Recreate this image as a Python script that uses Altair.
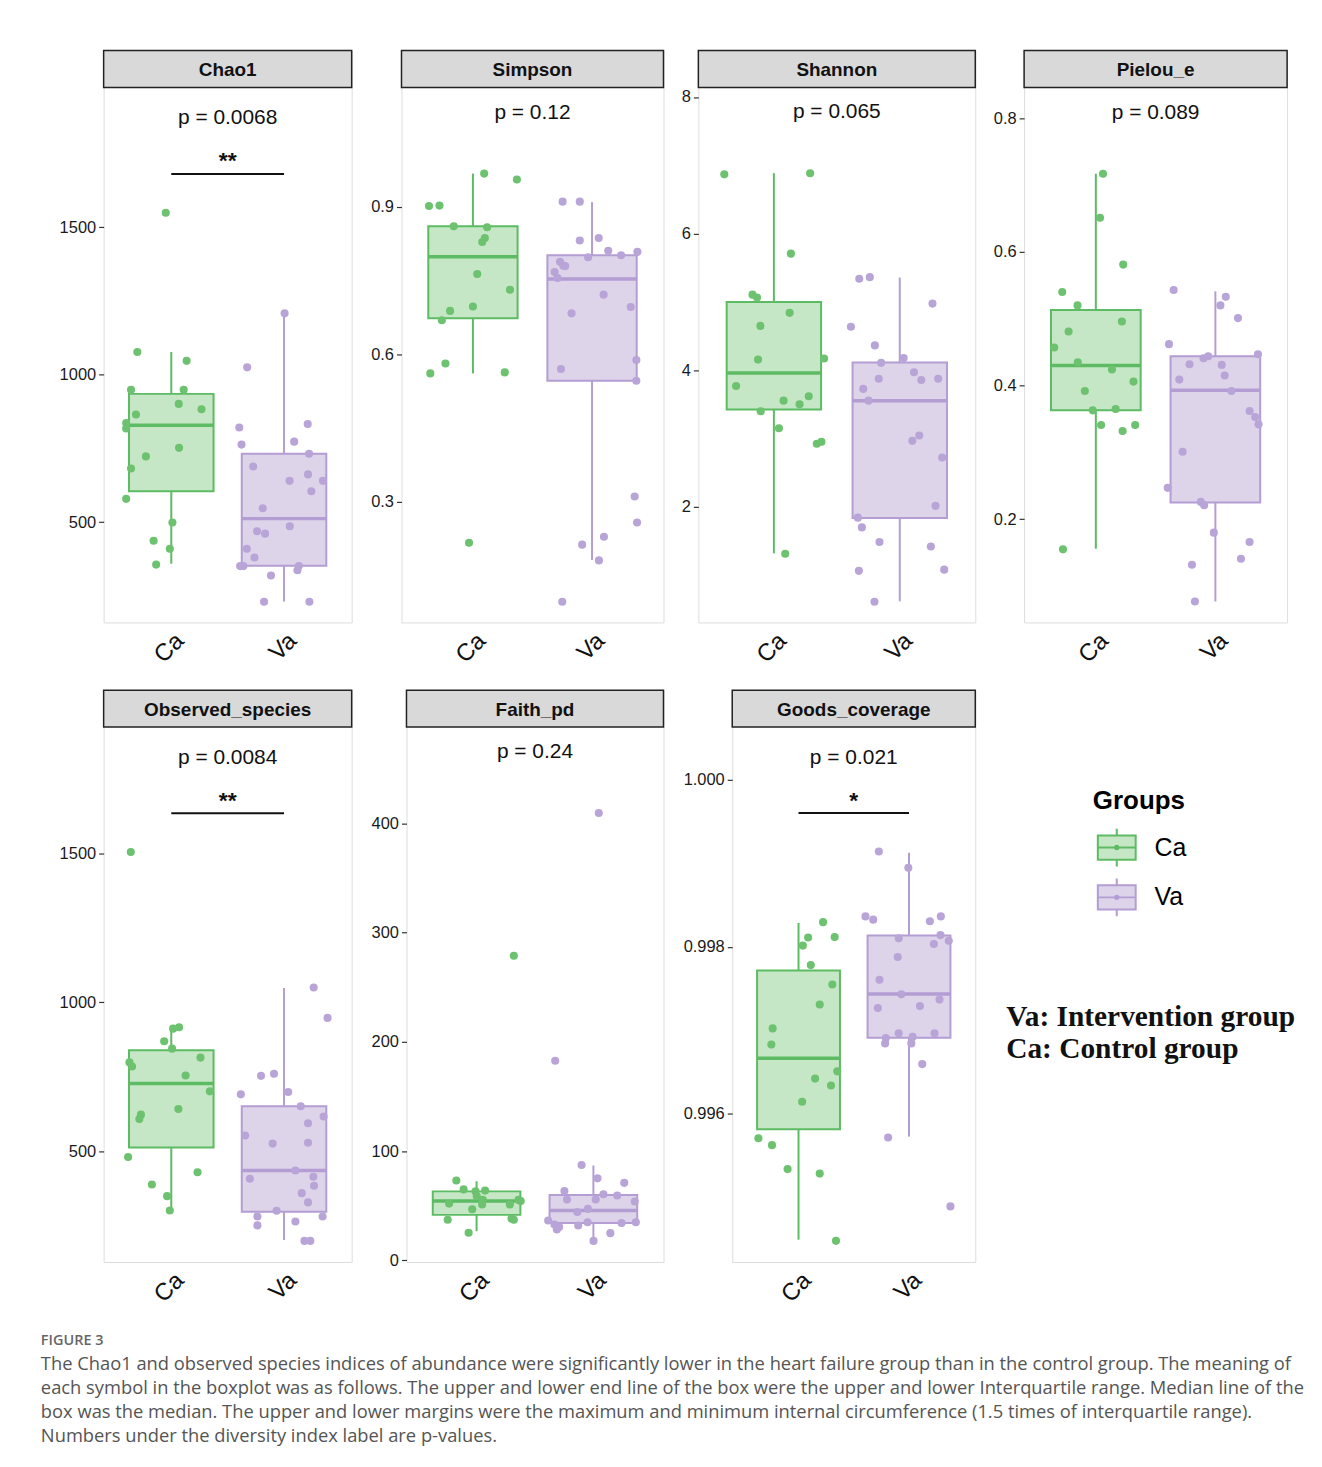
import altair as alt
import pandas as pd

GROUPS = ["Ca", "Va"]

# ---------------- data ----------------
# x = jittered position on the group axis (Ca = 1, Va = 2), y = index value
chao1_ca_x = [0.951, 0.699, 1.136, 0.643, 1.110, 1.066, 1.268, 0.687, 0.600, 0.600, 1.069, 0.775, 0.643, 0.600, 1.010, 0.843, 0.987, 0.866]
chao1_ca_y = [1549, 1077, 1047, 949, 949, 901, 883, 865, 836, 818, 752, 723, 682, 579, 499, 437, 410, 356]
chao1_va_x = [2.005, 1.673, 2.210, 1.603, 2.090, 1.623, 2.222, 1.726, 2.213, 2.049, 2.345, 2.242, 1.811, 2.051, 1.761, 1.832, 1.670, 1.738, 1.611, 1.640, 2.131, 2.119, 1.884, 1.823, 2.225]
chao1_va_y = [1208, 1025, 833, 821, 773, 763, 732, 689, 662, 640, 640, 605, 547, 486, 469, 461, 410, 380, 351, 351, 351, 337, 319, 230, 230]
chao1_box_ca = [359, 605, 829, 935, 1077]      # lower whisker, Q1, median, Q3, upper whisker
chao1_box_va = [231, 352, 512, 732, 1208]

simpson_ca_x = [1.094, 1.369, 0.631, 0.719, 0.839, 1.119, 1.100, 1.078, 1.036, 1.311, 1.000, 0.808, 0.739, 0.769, 0.642, 1.267, 0.967]
simpson_ca_y = [0.967, 0.955, 0.901, 0.902, 0.860, 0.858, 0.836, 0.828, 0.763, 0.731, 0.697, 0.688, 0.669, 0.581, 0.561, 0.563, 0.217]
simpson_va_x = [1.753, 1.897, 1.897, 2.056, 2.136, 2.244, 2.381, 1.967, 1.731, 1.758, 1.775, 1.686, 1.711, 2.097, 1.828, 2.325, 1.739, 2.372, 2.372, 2.358, 2.378, 2.100, 1.917, 2.058, 1.750]
simpson_va_y = [0.910, 0.910, 0.831, 0.836, 0.810, 0.801, 0.808, 0.797, 0.788, 0.780, 0.779, 0.767, 0.755, 0.721, 0.683, 0.696, 0.570, 0.588, 0.546, 0.311, 0.258, 0.229, 0.213, 0.181, 0.097]
simpson_box_ca = [0.561, 0.673, 0.798, 0.860, 0.967]
simpson_box_va = [0.182, 0.546, 0.753, 0.801, 0.909]

shannon_ca_x = [0.606, 1.288, 1.135, 0.830, 0.866, 1.125, 0.893, 0.874, 1.399, 0.700, 1.077, 1.204, 1.277, 0.895, 1.040, 1.341, 1.378, 1.090]
shannon_ca_y = [6.867, 6.884, 5.707, 5.106, 5.065, 4.839, 4.648, 4.155, 4.172, 3.768, 3.554, 3.500, 3.619, 3.399, 3.150, 2.924, 2.953, 1.312]
shannon_va_x = [1.678, 1.762, 2.260, 1.612, 1.802, 2.031, 1.852, 1.833, 2.113, 2.171, 2.305, 1.710, 1.752, 2.155, 2.100, 2.337, 2.284, 1.667, 1.699, 1.839, 2.247, 1.675, 2.353, 1.799]
shannon_va_y = [5.338, 5.362, 4.975, 4.636, 4.363, 4.178, 4.107, 3.875, 3.970, 3.857, 3.875, 3.726, 3.554, 3.043, 2.965, 2.721, 2.014, 1.841, 1.698, 1.484, 1.419, 1.062, 1.080, 0.610]
shannon_box_ca = [1.318, 3.423, 3.958, 4.999, 6.884]
shannon_box_va = [0.616, 1.835, 3.554, 4.113, 5.356]

pielou_ca_x = [1.060, 1.035, 1.229, 0.719, 0.847, 1.218, 0.772, 0.652, 0.849, 1.135, 1.315, 0.908, 0.974, 1.166, 1.044, 1.329, 1.224, 0.725]
pielou_ca_y = [0.717, 0.651, 0.581, 0.540, 0.520, 0.496, 0.481, 0.457, 0.435, 0.424, 0.406, 0.392, 0.363, 0.365, 0.341, 0.341, 0.332, 0.155]
pielou_va_x = [1.651, 2.087, 2.042, 2.189, 1.612, 1.940, 1.901, 2.356, 1.784, 2.053, 2.078, 1.698, 2.134, 2.286, 2.333, 2.361, 1.726, 1.601, 1.878, 1.906, 1.987, 2.286, 2.214, 1.804, 1.829]
pielou_va_y = [0.543, 0.533, 0.520, 0.501, 0.462, 0.444, 0.441, 0.447, 0.432, 0.431, 0.415, 0.409, 0.392, 0.362, 0.353, 0.342, 0.301, 0.247, 0.226, 0.221, 0.180, 0.166, 0.141, 0.132, 0.077]
pielou_box_ca = [0.156, 0.363, 0.430, 0.513, 0.717]
pielou_box_va = [0.077, 0.225, 0.393, 0.444, 0.541]

obs_ca_x = [0.641, 1.069, 1.016, 0.937, 1.007, 1.259, 0.629, 0.652, 1.127, 1.342, 0.731, 0.717, 1.063, 0.617, 1.233, 0.828, 0.963, 0.987]
obs_ca_y = [1504, 917, 912, 870, 845, 815, 799, 785, 755, 702, 624, 609, 643, 482, 431, 390, 351, 303]
obs_va_x = [2.263, 2.386, 1.796, 1.911, 1.617, 2.037, 2.148, 2.351, 2.213, 1.655, 1.899, 2.213, 2.101, 1.697, 2.260, 2.266, 2.157, 2.213, 1.934, 1.764, 2.342, 2.101, 1.764, 2.181, 2.233]
obs_va_y = [1050, 948, 754, 761, 692, 700, 652, 618, 595, 554, 527, 530, 437, 409, 416, 386, 361, 330, 302, 283, 283, 266, 253, 201, 201]
obs_box_ca = [306, 514, 728, 840, 910]
obs_box_va = [204, 299, 437, 652, 1048]

faith_ca_x = [1.319, 0.827, 0.889, 0.991, 1.073, 1.002, 1.053, 1.359, 0.765, 1.285, 1.048, 0.963, 0.753, 1.299, 1.319, 0.932, 1.378]
faith_ca_y = [278.7, 73.1, 64.9, 63.1, 63.8, 58.6, 55.3, 55.3, 51.9, 51.2, 51.2, 46.8, 37.1, 38.2, 37.1, 25.2, 54.2]
faith_va_x = [2.046, 1.673, 1.899, 2.035, 2.264, 1.752, 2.086, 2.204, 1.774, 2.020, 2.354, 1.953, 1.862, 1.613, 1.950, 2.241, 2.363, 1.667, 1.707, 1.870, 1.687, 2.145, 2.001]
faith_va_y = [409.3, 182.6, 87.2, 75.0, 70.9, 63.5, 60.5, 59.4, 55.7, 55.7, 53.8, 47.1, 44.2, 36.4, 34.9, 34.1, 34.9, 32.7, 30.4, 31.9, 28.2, 24.9, 17.8]
faith_box_ca = [26.7, 41.6, 54.2, 63.1, 72.4]
faith_box_va = [18.6, 34.1, 45.6, 59.7, 86.8]

goods_ca_x = [1.222, 1.087, 1.327, 1.039, 1.111, 1.306, 1.192, 0.766, 0.754, 1.351, 1.150, 1.294, 1.033, 0.637, 0.760, 0.901, 1.192, 1.339]
goods_ca_y = [0.998296, 0.998112, 0.998117, 0.998015, 0.997781, 0.997548, 0.997310, 0.997023, 0.996829, 0.996508, 0.996421, 0.996338, 0.996144, 0.995706, 0.995624, 0.995337, 0.995283, 0.994477]
goods_va_x = [1.727, 1.994, 1.606, 1.676, 2.189, 2.288, 1.907, 2.285, 2.360, 2.225, 1.898, 1.733, 1.931, 1.718, 2.099, 2.276, 1.907, 1.790, 2.033, 2.231, 1.784, 2.021, 2.120, 1.811, 2.375]
goods_va_y = [0.999142, 0.998948, 0.998365, 0.998326, 0.998306, 0.998365, 0.998102, 0.998141, 0.998073, 0.998034, 0.997878, 0.997606, 0.997431, 0.997266, 0.997290, 0.997368, 0.996965, 0.996907, 0.996921, 0.996965, 0.996843, 0.996843, 0.996595, 0.995716, 0.994890]
goods_box_ca = [0.994491, 0.995813, 0.996664, 0.997718, 0.998287]
goods_box_va = [0.995726, 0.996911, 0.997436, 0.998136, 0.999128]

# axis ranges of the plotting area, tick values and labels
panel_titles = ["Chao1", "Simpson", "Shannon", "Pielou_e", "Observed_species", "Faith_pd", "Goods_coverage"]
panel_ranges = [[160, 1974], [0.055, 1.142], [0.307, 8.139], [0.0457, 0.846], [130.4, 1922.5], [-1.5, 488], [0.994224, 1.000634]]
panel_ticks = [[500, 1000, 1500], [0.3, 0.6, 0.9], [2, 4, 6, 8], [0.2, 0.4, 0.6, 0.8], [500, 1000, 1500], [0, 100, 200, 300, 400], [0.996, 0.998, 1.000]]
panel_formats = ["d", ".1f", "d", ".1f", "d", "d", ".3f"]
p_labels = ["p = 0.0068", "p = 0.12", "p = 0.065", "p = 0.089", "p = 0.0084", "p = 0.24", "p = 0.021"]
p_label_y = [1875, 1.094, 7.80, 0.810, 1825, 466.8, 1.000284]
sig_labels = ["**", "", "", "", "**", "", "*"]
sig_bar_y = [1681, None, None, None, 1634, None, 0.999604]
sig_star_y = [1744, None, None, None, 1696, None, 0.999823]

legend_title = "Groups"
note_lines = ["Va: Intervention group", "Ca: Control group"]
fig_label = "FIGURE 3"
caption_lines = [
    "The Chao1 and observed species indices of abundance were significantly lower in the heart failure group than in the control group. The meaning of",
    "each symbol in the boxplot was as follows. The upper and lower end line of the box were the upper and lower Interquartile range. Median line of the",
    "box was the median. The upper and lower margins were the maximum and minimum internal circumference (1.5 times of interquartile range).",
    "Numbers under the diversity index label are p-values.",
]

points = [
    (chao1_ca_x, chao1_ca_y, chao1_va_x, chao1_va_y),
    (simpson_ca_x, simpson_ca_y, simpson_va_x, simpson_va_y),
    (shannon_ca_x, shannon_ca_y, shannon_va_x, shannon_va_y),
    (pielou_ca_x, pielou_ca_y, pielou_va_x, pielou_va_y),
    (obs_ca_x, obs_ca_y, obs_va_x, obs_va_y),
    (faith_ca_x, faith_ca_y, faith_va_x, faith_va_y),
    (goods_ca_x, goods_ca_y, goods_va_x, goods_va_y),
]
boxes = [
    (chao1_box_ca, chao1_box_va), (simpson_box_ca, simpson_box_va), (shannon_box_ca, shannon_box_va),
    (pielou_box_ca, pielou_box_va), (obs_box_ca, obs_box_va), (faith_box_ca, faith_box_va),
    (goods_box_ca, goods_box_va),
]

# ---------------- styling / layout ----------------
SANS = "Liberation Sans"
LINE_G, FILL_G, PT_G = "#5dbb63", "#c6e7c5", "#6cc26f"
LINE_P, FILL_P, PT_P = "#b39dd3", "#ddd4ea", "#b9a4d8"
H = 574          # panel height incl. strip
HEAD = 37        # strip height
BOX_HALF = 0.375
panel_widths = [249, 263, 278, 264, 249, 258, 244]
axis_extent = [63, 35, 20, 34, 63, 40, 54]

ICON = ("M-1,-0.64H1V0.64H-1Z M-1,0H1 M0,-0.64V-1 M0,0.64V1 "
        "M0.09,0A0.09,0.09 0 1 1 -0.09,0A0.09,0.09 0 1 1 0.09,0Z")

LEGEND = alt.Legend(
    title=legend_title, orient="none", legendX=993, legendY=740, padding=0,
    symbolType=ICON, symbolSize=1444, symbolStrokeWidth=2, symbolFillColor="white", symbolOffset=4,
    titleFont=SANS, titleFontSize=26, titleFontWeight="bold", titleColor="black", titlePadding=14,
    labelFont=SANS, labelFontSize=25, labelColor="black", labelOffset=18, rowPadding=4,
)
STROKE_SCALE = alt.Scale(domain=GROUPS, range=[LINE_G, LINE_P])


def stroke_enc(with_legend=False):
    if with_legend:
        return alt.Stroke("grp:N", scale=STROKE_SCALE, legend=LEGEND)
    return alt.Stroke("grp:N", scale=STROKE_SCALE, legend=None)


def make_panel(i):
    title = panel_titles[i]
    w = panel_widths[i]
    lo, hi = panel_ranges[i]
    top = hi + (hi - lo) * HEAD / (H - HEAD)
    xs = alt.Scale(domain=[0.4, 2.6], nice=False, zero=False)
    ys = alt.Scale(domain=[lo, top], nice=False, zero=False)
    xax = alt.Axis(values=[1, 2], labelExpr="datum.value == 1 ? 'Ca' : 'Va'", labelAngle=-45,
                   labelAlign="right", labelBaseline="top", labelFont=SANS, labelFontSize=24,
                   labelColor="#111", labelPadding=6, ticks=False, domain=False, grid=False,
                   title=None, minExtent=45, maxExtent=45)
    yax = alt.Axis(values=panel_ticks[i], format=panel_formats[i], labelFont=SANS, labelFontSize=16.5,
                   labelColor="#1a1a1a", tickSize=5, tickColor="#333", tickWidth=1.2, labelPadding=3,
                   domain=False, grid=False, title=None, minExtent=axis_extent[i], maxExtent=axis_extent[i])

    cax, cay, vax, vay = points[i]
    grp_pts = ["Ca"] * len(cax) + ["Va"] * len(vax)
    pts = pd.DataFrame({"pgrp": grp_pts, "xj": cax + vax, "val": cay + vay})
    bca, bva = boxes[i]
    bx = pd.DataFrame({
        "grp": GROUPS, "fgrp": GROUPS, "cx": [1, 2],
        "xl": [1 - BOX_HALF, 2 - BOX_HALF], "xr": [1 + BOX_HALF, 2 + BOX_HALF],
        "lo": [bca[0], bva[0]], "q1": [bca[1], bva[1]], "med": [bca[2], bva[2]],
        "q3": [bca[3], bva[3]], "hi": [bca[4], bva[4]],
    })

    head_df = pd.DataFrame({"t": [title]})
    head = alt.Chart(head_df).mark_rect(fill="#d9d9d9", stroke="#222", strokeWidth=1.5).encode(
        x=alt.value(0), x2=alt.value(w), y=alt.value(0), y2=alt.value(HEAD))
    head_txt = alt.Chart(head_df).mark_text(font=SANS, fontSize=19, fontWeight="bold", color="#111").encode(
        x=alt.value(w / 2), y=alt.value(HEAD / 2 + 1), text="t:N")

    base_b = alt.Chart(bx)
    wlo = base_b.mark_rule(strokeWidth=2).encode(
        x=alt.X("cx:Q", scale=xs, axis=xax), y=alt.Y("lo:Q", scale=ys, axis=yax), y2="q1:Q",
        stroke=stroke_enc(True))
    whi = base_b.mark_rule(strokeWidth=2).encode(
        x=alt.X("cx:Q", scale=xs, axis=xax), y=alt.Y("q3:Q", scale=ys, axis=yax), y2="hi:Q",
        stroke=stroke_enc())
    box = base_b.mark_rect(strokeWidth=2).encode(
        x=alt.X("xl:Q", scale=xs, axis=xax), x2="xr:Q",
        y=alt.Y("q1:Q", scale=ys, axis=yax), y2="q3:Q",
        fill=alt.Fill("fgrp:N", scale=alt.Scale(domain=GROUPS, range=[FILL_G, FILL_P]), legend=None),
        stroke=stroke_enc())
    med = base_b.mark_rule(strokeWidth=3.5).encode(
        x=alt.X("xl:Q", scale=xs, axis=xax), x2="xr:Q", y=alt.Y("med:Q", scale=ys, axis=yax),
        stroke=stroke_enc())
    dots = alt.Chart(pts).mark_circle(size=66, opacity=1).encode(
        x=alt.X("xj:Q", scale=xs, axis=xax), y=alt.Y("val:Q", scale=ys, axis=yax),
        color=alt.Color("pgrp:N", scale=alt.Scale(domain=GROUPS, range=[PT_G, PT_P]), legend=None))

    ann = pd.DataFrame({"x": [1.5], "p": [p_labels[i]], "py": [p_label_y[i]]})
    ptxt = alt.Chart(ann).mark_text(font=SANS, fontSize=21, color="#111", baseline="alphabetic", dy=7.5).encode(
        x=alt.X("x:Q", scale=xs, axis=xax), y=alt.Y("py:Q", scale=ys, axis=yax), text="p:N")

    layers = [head, head_txt, wlo, whi, box, med, dots, ptxt]
    if sig_labels[i]:
        sig = pd.DataFrame({"x1": [1.0], "x2": [2.0], "x": [1.5], "y": [sig_bar_y[i]],
                            "sy": [sig_star_y[i]], "s": [sig_labels[i]]})
        bar = alt.Chart(sig).mark_rule(color="#111", strokeWidth=2).encode(
            x=alt.X("x1:Q", scale=xs, axis=xax), x2="x2:Q", y=alt.Y("y:Q", scale=ys, axis=yax))
        star = alt.Chart(sig).mark_text(font=SANS, fontSize=23, fontWeight="bold", color="#111",
                                        baseline="alphabetic", dy=13).encode(
            x=alt.X("x:Q", scale=xs, axis=xax), y=alt.Y("sy:Q", scale=ys, axis=yax), text="s:N")
        layers += [bar, star]
    return alt.layer(*layers).properties(width=w, height=H)


one = pd.DataFrame({"k": [0]})
note = alt.Chart(one).mark_text(
    align="left", baseline="middle", font="Liberation Serif", fontWeight="bold", fontSize=29.5,
    lineHeight=32, color="#111").encode(
    x=alt.value(16), y=alt.value(328), text=alt.value(note_lines)
).properties(width=300, height=H, view=alt.ViewBackground(stroke="transparent"))

fig_chart = alt.Chart(one).mark_text(
    align="left", baseline="middle", font="Open Sans", fontSize=14.5, fontWeight=600, color="#666").encode(
    x=alt.value(-63), y=alt.value(12), text=alt.value(fig_label)
).properties(width=1100, height=22, view=alt.ViewBackground(stroke="transparent"))

body_chart = alt.Chart(one).mark_text(
    align="left", baseline="top", font="Open Sans", fontSize=18.4, lineHeight=24.3, color="#555").encode(
    x=alt.value(-63), y=alt.value(2), text=alt.value(caption_lines)
).properties(width=1100, height=95, view=alt.ViewBackground(stroke="transparent"))

row1 = alt.hconcat(*[make_panel(i) for i in range(4)], spacing=12)
row2 = alt.hconcat(*[make_panel(i) for i in range(4, 7)], note, spacing=12)
caption = alt.vconcat(fig_chart, body_chart, spacing=0)

chart = alt.vconcat(row1, row2, caption, spacing=20).properties(
    padding={"left": 32, "top": 38, "right": 8, "bottom": 8}
).configure_view(stroke="#222", strokeWidth=1.5).configure(font=SANS)

chart.save("out.html", embed_options={"renderer": "svg", "actions": False})
